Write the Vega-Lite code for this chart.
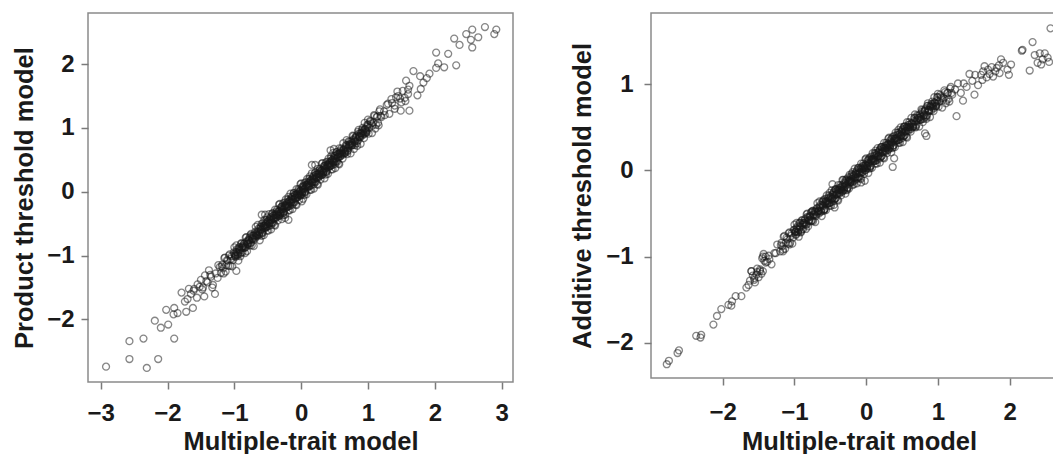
{
"$schema": "https://vega.github.io/schema/vega-lite/v6.json",
"padding": {"left": 11, "top": 12, "right": 0, "bottom": 0},
"background": "white",
"bounds": "flush",
"spacing": 138,
"datasets": {
"product": [
{"x":-1.60,"y":-1.52},{"x":-1.56,"y":-1.66},{"x":-1.52,"y":-1.49},{"x":-1.48,"y":-1.53},{"x":-1.44,"y":-1.31},{"x":-1.40,"y":-1.42},{"x":-1.36,"y":-1.30},{"x":-1.32,"y":-1.46},{"x":-1.28,"y":-1.28},{"x":-1.24,"y":-1.15},{"x":-1.20,"y":-1.27},
{"x":-1.18,"y":-1.14},{"x":-1.16,"y":-1.28},{"x":-1.14,"y":-1.03},{"x":-1.12,"y":-1.15},{"x":-1.10,"y":-1.08},{"x":-1.08,"y":-1.00},{"x":-1.06,"y":-1.16},{"x":-1.04,"y":-1.01},{"x":-1.02,"y":-1.07},{"x":-1.00,"y":-0.87},{"x":-0.98,"y":-1.00},{"x":-0.96,"y":-0.90},{"x":-0.94,"y":-1.08},{"x":-0.92,"y":-0.92},{"x":-0.90,"y":-0.81},{"x":-0.88,"y":-0.95},{"x":-0.86,"y":-0.82},{"x":-0.84,"y":-0.96},{"x":-0.82,"y":-0.71},{"x":-0.80,"y":-0.83},{"x":-0.78,"y":-0.76},{"x":-0.76,"y":-0.68},{"x":-0.74,"y":-0.84},{"x":-0.72,"y":-0.69},{"x":-0.70,"y":-0.75},{"x":-0.68,"y":-0.55},{"x":-0.66,"y":-0.68},{"x":-0.64,"y":-0.58},{"x":-0.62,"y":-0.76},
{"x":-0.60,"y":-0.60},{"x":-0.59,"y":-0.50},{"x":-0.58,"y":-0.65},{"x":-0.57,"y":-0.53},{"x":-0.56,"y":-0.68},{"x":-0.55,"y":-0.44},{"x":-0.54,"y":-0.57},{"x":-0.53,"y":-0.51},{"x":-0.52,"y":-0.44},{"x":-0.51,"y":-0.61},{"x":-0.50,"y":-0.47},{"x":-0.49,"y":-0.54},{"x":-0.48,"y":-0.35},{"x":-0.47,"y":-0.49},{"x":-0.46,"y":-0.40},{"x":-0.45,"y":-0.59},{"x":-0.44,"y":-0.44},{"x":-0.43,"y":-0.34},{"x":-0.42,"y":-0.49},{"x":-0.41,"y":-0.37},{"x":-0.40,"y":-0.52},{"x":-0.39,"y":-0.28},{"x":-0.38,"y":-0.41},{"x":-0.37,"y":-0.35},{"x":-0.36,"y":-0.28},{"x":-0.35,"y":-0.45},{"x":-0.34,"y":-0.31},{"x":-0.33,"y":-0.38},{"x":-0.32,"y":-0.19},{"x":-0.31,"y":-0.33},{"x":-0.30,"y":-0.24},{"x":-0.29,"y":-0.43},{"x":-0.28,"y":-0.28},{"x":-0.27,"y":-0.18},{"x":-0.26,"y":-0.33},{"x":-0.25,"y":-0.21},{"x":-0.24,"y":-0.36},{"x":-0.23,"y":-0.12},{"x":-0.22,"y":-0.25},{"x":-0.21,"y":-0.19},{"x":-0.20,"y":-0.12},{"x":-0.19,"y":-0.29},{"x":-0.18,"y":-0.15},{"x":-0.17,"y":-0.22},{"x":-0.16,"y":-0.03},{"x":-0.15,"y":-0.17},{"x":-0.14,"y":-0.08},{"x":-0.13,"y":-0.27},{"x":-0.12,"y":-0.12},{"x":-0.11,"y":-0.02},{"x":-0.10,"y":-0.17},{"x":-0.09,"y":-0.05},{"x":-0.08,"y":-0.20},{"x":-0.07,"y":0.04},{"x":-0.06,"y":-0.09},{"x":-0.05,"y":-0.03},{"x":-0.04,"y":0.04},{"x":-0.03,"y":-0.13},{"x":-0.02,"y":0.01},{"x":-0.01,"y":-0.06},
{"x":0.00,"y":0.13},{"x":0.01,"y":-0.01},{"x":0.02,"y":0.08},{"x":0.03,"y":-0.11},{"x":0.04,"y":0.04},{"x":0.05,"y":0.14},{"x":0.06,"y":-0.01},{"x":0.07,"y":0.11},{"x":0.08,"y":-0.04},{"x":0.09,"y":0.20},{"x":0.10,"y":0.07},{"x":0.11,"y":0.13},{"x":0.12,"y":0.20},{"x":0.13,"y":0.03},{"x":0.14,"y":0.17},{"x":0.15,"y":0.10},{"x":0.16,"y":0.29},{"x":0.17,"y":0.15},{"x":0.18,"y":0.24},{"x":0.19,"y":0.05},{"x":0.20,"y":0.20},{"x":0.21,"y":0.30},{"x":0.22,"y":0.15},{"x":0.23,"y":0.27},{"x":0.24,"y":0.12},{"x":0.25,"y":0.36},{"x":0.26,"y":0.23},{"x":0.27,"y":0.29},{"x":0.28,"y":0.36},{"x":0.29,"y":0.19},{"x":0.30,"y":0.33},{"x":0.31,"y":0.26},{"x":0.32,"y":0.45},{"x":0.33,"y":0.31},{"x":0.34,"y":0.40},{"x":0.35,"y":0.21},{"x":0.36,"y":0.36},{"x":0.37,"y":0.46},{"x":0.38,"y":0.31},{"x":0.39,"y":0.43},{"x":0.40,"y":0.28},{"x":0.41,"y":0.52},{"x":0.42,"y":0.39},{"x":0.43,"y":0.45},{"x":0.44,"y":0.52},{"x":0.45,"y":0.35},{"x":0.46,"y":0.49},{"x":0.47,"y":0.42},{"x":0.48,"y":0.61},{"x":0.49,"y":0.47},{"x":0.50,"y":0.56},{"x":0.51,"y":0.37},{"x":0.52,"y":0.52},{"x":0.53,"y":0.62},{"x":0.54,"y":0.47},{"x":0.55,"y":0.59},{"x":0.56,"y":0.44},{"x":0.57,"y":0.68},{"x":0.58,"y":0.55},{"x":0.59,"y":0.61},{"x":0.60,"y":0.68},
{"x":0.62,"y":0.52},{"x":0.64,"y":0.67},{"x":0.66,"y":0.61},{"x":0.68,"y":0.81},{"x":0.70,"y":0.68},{"x":0.72,"y":0.78},{"x":0.74,"y":0.60},{"x":0.76,"y":0.76},{"x":0.78,"y":0.87},{"x":0.80,"y":0.73},{"x":0.82,"y":0.86},{"x":0.84,"y":0.72},{"x":0.86,"y":0.97},{"x":0.88,"y":0.85},{"x":0.90,"y":0.92},{"x":0.92,"y":1.00},{"x":0.94,"y":0.84},{"x":0.96,"y":0.99},{"x":0.98,"y":0.93},{"x":1.00,"y":1.13},{"x":1.02,"y":1.00},{"x":1.04,"y":1.10},{"x":1.06,"y":0.92},{"x":1.08,"y":1.08},{"x":1.10,"y":1.19},{"x":1.12,"y":1.05},{"x":1.14,"y":1.18},{"x":1.16,"y":1.04},{"x":1.18,"y":1.29},
{"x":1.20,"y":1.17},{"x":1.24,"y":1.26},{"x":1.28,"y":1.36},{"x":1.32,"y":1.22},{"x":1.36,"y":1.39},{"x":1.40,"y":1.35},{"x":1.44,"y":1.57},{"x":1.48,"y":1.46},{"x":1.52,"y":1.58},{"x":1.56,"y":1.42},{"x":1.60,"y":1.60},
{"x":-1.19,"y":-1.17},{"x":-1.17,"y":-1.20},{"x":-1.15,"y":-1.04},{"x":-1.13,"y":-1.25},{"x":-1.11,"y":-1.07},{"x":-1.09,"y":-1.16},{"x":-1.07,"y":-0.98},{"x":-1.05,"y":-1.05},{"x":-1.03,"y":-1.17},{"x":-1.01,"y":-0.95},{"x":-0.99,"y":-1.01},{"x":-0.97,"y":-0.84},{"x":-0.95,"y":-1.00},{"x":-0.93,"y":-0.90},{"x":-0.91,"y":-1.01},{"x":-0.89,"y":-0.81},{"x":-0.87,"y":-0.85},{"x":-0.85,"y":-0.88},{"x":-0.83,"y":-0.72},{"x":-0.81,"y":-0.93},{"x":-0.79,"y":-0.75},{"x":-0.77,"y":-0.84},{"x":-0.75,"y":-0.66},{"x":-0.73,"y":-0.73},{"x":-0.71,"y":-0.85},{"x":-0.69,"y":-0.63},{"x":-0.67,"y":-0.69},{"x":-0.65,"y":-0.52},{"x":-0.63,"y":-0.68},{"x":-0.61,"y":-0.58},{"x":-0.59,"y":-0.69},{"x":-0.57,"y":-0.49},{"x":-0.55,"y":-0.53},{"x":-0.53,"y":-0.56},{"x":-0.51,"y":-0.40},{"x":-0.49,"y":-0.61},{"x":-0.47,"y":-0.43},{"x":-0.45,"y":-0.52},{"x":-0.43,"y":-0.34},{"x":-0.41,"y":-0.41},{"x":-0.39,"y":-0.53},{"x":-0.37,"y":-0.31},{"x":-0.35,"y":-0.37},{"x":-0.33,"y":-0.20},{"x":-0.31,"y":-0.36},{"x":-0.29,"y":-0.26},{"x":-0.27,"y":-0.37},{"x":-0.25,"y":-0.17},{"x":-0.23,"y":-0.21},{"x":-0.21,"y":-0.24},{"x":-0.19,"y":-0.08},{"x":-0.17,"y":-0.29},{"x":-0.15,"y":-0.11},{"x":-0.13,"y":-0.20},{"x":-0.11,"y":-0.02},{"x":-0.09,"y":-0.09},{"x":-0.07,"y":-0.21},{"x":-0.05,"y":0.01},{"x":-0.03,"y":-0.05},{"x":-0.01,"y":0.12},
{"x":0.01,"y":-0.04},{"x":0.03,"y":0.06},{"x":0.05,"y":-0.05},{"x":0.07,"y":0.15},{"x":0.09,"y":0.11},{"x":0.11,"y":0.08},{"x":0.13,"y":0.24},{"x":0.15,"y":0.03},{"x":0.17,"y":0.21},{"x":0.19,"y":0.12},{"x":0.21,"y":0.30},{"x":0.23,"y":0.23},{"x":0.25,"y":0.11},{"x":0.27,"y":0.33},{"x":0.29,"y":0.27},{"x":0.31,"y":0.44},{"x":0.33,"y":0.28},{"x":0.35,"y":0.38},{"x":0.37,"y":0.27},{"x":0.39,"y":0.47},{"x":0.41,"y":0.43},{"x":0.43,"y":0.40},{"x":0.45,"y":0.56},{"x":0.47,"y":0.35},{"x":0.49,"y":0.53},{"x":0.51,"y":0.44},{"x":0.53,"y":0.62},{"x":0.55,"y":0.55},{"x":0.57,"y":0.43},{"x":0.59,"y":0.65},{"x":0.61,"y":0.59},{"x":0.63,"y":0.76},{"x":0.65,"y":0.60},{"x":0.67,"y":0.70},{"x":0.69,"y":0.59},{"x":0.71,"y":0.79},{"x":0.73,"y":0.75},{"x":0.75,"y":0.72},{"x":0.77,"y":0.88},{"x":0.79,"y":0.67},{"x":0.81,"y":0.85},{"x":0.83,"y":0.76},{"x":0.85,"y":0.94},{"x":0.87,"y":0.87},{"x":0.89,"y":0.75},{"x":0.91,"y":0.97},{"x":0.93,"y":0.91},{"x":0.95,"y":1.08},{"x":0.97,"y":0.92},{"x":0.99,"y":1.02},{"x":1.01,"y":0.91},{"x":1.03,"y":1.11},{"x":1.05,"y":1.07},{"x":1.07,"y":1.04},{"x":1.09,"y":1.20},{"x":1.11,"y":0.99},{"x":1.13,"y":1.17},{"x":1.15,"y":1.08},{"x":1.17,"y":1.26},{"x":1.19,"y":1.19},
{"x":-1.00,"y":-0.97},{"x":-0.98,"y":-1.02},{"x":-0.96,"y":-0.95},{"x":-0.94,"y":-0.96},{"x":-0.92,"y":-0.87},{"x":-0.90,"y":-0.95},{"x":-0.88,"y":-0.86},{"x":-0.86,"y":-0.86},{"x":-0.84,"y":-0.87},{"x":-0.82,"y":-0.78},{"x":-0.80,"y":-0.81},{"x":-0.78,"y":-0.76},{"x":-0.76,"y":-0.80},{"x":-0.74,"y":-0.69},{"x":-0.72,"y":-0.74},{"x":-0.70,"y":-0.69},{"x":-0.68,"y":-0.65},{"x":-0.66,"y":-0.70},{"x":-0.64,"y":-0.63},{"x":-0.62,"y":-0.64},{"x":-0.60,"y":-0.55},{"x":-0.58,"y":-0.63},{"x":-0.56,"y":-0.54},{"x":-0.54,"y":-0.54},{"x":-0.52,"y":-0.55},{"x":-0.50,"y":-0.46},{"x":-0.48,"y":-0.49},{"x":-0.46,"y":-0.44},{"x":-0.44,"y":-0.48},{"x":-0.42,"y":-0.37},{"x":-0.40,"y":-0.42},{"x":-0.38,"y":-0.37},{"x":-0.36,"y":-0.33},{"x":-0.34,"y":-0.38},{"x":-0.32,"y":-0.31},{"x":-0.30,"y":-0.32},{"x":-0.28,"y":-0.23},{"x":-0.26,"y":-0.31},{"x":-0.24,"y":-0.22},{"x":-0.22,"y":-0.22},{"x":-0.20,"y":-0.23},{"x":-0.18,"y":-0.14},{"x":-0.16,"y":-0.17},{"x":-0.14,"y":-0.12},{"x":-0.12,"y":-0.16},{"x":-0.10,"y":-0.05},{"x":-0.08,"y":-0.10},{"x":-0.06,"y":-0.05},{"x":-0.04,"y":-0.01},{"x":-0.02,"y":-0.06},
{"x":0.00,"y":0.01},{"x":0.02,"y":0.00},{"x":0.04,"y":0.09},{"x":0.06,"y":0.01},{"x":0.08,"y":0.10},{"x":0.10,"y":0.10},{"x":0.12,"y":0.09},{"x":0.14,"y":0.18},{"x":0.16,"y":0.15},{"x":0.18,"y":0.20},{"x":0.20,"y":0.16},{"x":0.22,"y":0.27},{"x":0.24,"y":0.22},{"x":0.26,"y":0.27},{"x":0.28,"y":0.31},{"x":0.30,"y":0.26},{"x":0.32,"y":0.33},{"x":0.34,"y":0.32},{"x":0.36,"y":0.41},{"x":0.38,"y":0.33},{"x":0.40,"y":0.42},{"x":0.42,"y":0.42},{"x":0.44,"y":0.41},{"x":0.46,"y":0.50},{"x":0.48,"y":0.47},{"x":0.50,"y":0.52},{"x":0.52,"y":0.48},{"x":0.54,"y":0.59},{"x":0.56,"y":0.54},{"x":0.58,"y":0.59},{"x":0.60,"y":0.63},{"x":0.62,"y":0.58},{"x":0.64,"y":0.65},{"x":0.66,"y":0.64},{"x":0.68,"y":0.73},{"x":0.70,"y":0.65},{"x":0.72,"y":0.74},{"x":0.74,"y":0.74},{"x":0.76,"y":0.73},{"x":0.78,"y":0.82},{"x":0.80,"y":0.79},{"x":0.82,"y":0.84},{"x":0.84,"y":0.80},{"x":0.86,"y":0.91},{"x":0.88,"y":0.86},{"x":0.90,"y":0.91},{"x":0.92,"y":0.95},{"x":0.94,"y":0.90},{"x":0.96,"y":0.97},{"x":0.98,"y":0.96},{"x":1.00,"y":1.05},
{"x":-0.99,"y":-0.99},{"x":-0.97,"y":-0.94},{"x":-0.95,"y":-0.98},{"x":-0.93,"y":-0.87},{"x":-0.91,"y":-0.97},{"x":-0.89,"y":-0.88},{"x":-0.87,"y":-0.88},{"x":-0.85,"y":-0.81},{"x":-0.83,"y":-0.87},{"x":-0.81,"y":-0.79},{"x":-0.79,"y":-0.81},{"x":-0.77,"y":-0.72},{"x":-0.75,"y":-0.80},{"x":-0.73,"y":-0.73},{"x":-0.71,"y":-0.68},{"x":-0.69,"y":-0.72},{"x":-0.67,"y":-0.67},{"x":-0.65,"y":-0.62},{"x":-0.63,"y":-0.66},{"x":-0.61,"y":-0.55},{"x":-0.59,"y":-0.65},{"x":-0.57,"y":-0.56},{"x":-0.55,"y":-0.56},{"x":-0.53,"y":-0.49},{"x":-0.51,"y":-0.55},{"x":-0.49,"y":-0.47},{"x":-0.47,"y":-0.49},{"x":-0.45,"y":-0.40},{"x":-0.43,"y":-0.48},{"x":-0.41,"y":-0.41},{"x":-0.39,"y":-0.36},{"x":-0.37,"y":-0.40},{"x":-0.35,"y":-0.35},{"x":-0.33,"y":-0.30},{"x":-0.31,"y":-0.34},{"x":-0.29,"y":-0.23},{"x":-0.27,"y":-0.33},{"x":-0.25,"y":-0.24},{"x":-0.23,"y":-0.24},{"x":-0.21,"y":-0.17},{"x":-0.19,"y":-0.23},{"x":-0.17,"y":-0.15},{"x":-0.15,"y":-0.17},{"x":-0.13,"y":-0.08},{"x":-0.11,"y":-0.16},{"x":-0.09,"y":-0.09},{"x":-0.07,"y":-0.04},{"x":-0.05,"y":-0.08},{"x":-0.03,"y":-0.03},{"x":-0.01,"y":0.02},
{"x":0.01,"y":-0.02},{"x":0.03,"y":0.09},{"x":0.05,"y":-0.01},{"x":0.07,"y":0.08},{"x":0.09,"y":0.08},{"x":0.11,"y":0.15},{"x":0.13,"y":0.09},{"x":0.15,"y":0.17},{"x":0.17,"y":0.15},{"x":0.19,"y":0.24},{"x":0.21,"y":0.16},{"x":0.23,"y":0.23},{"x":0.25,"y":0.28},{"x":0.27,"y":0.24},{"x":0.29,"y":0.29},{"x":0.31,"y":0.34},{"x":0.33,"y":0.30},{"x":0.35,"y":0.41},{"x":0.37,"y":0.31},{"x":0.39,"y":0.40},{"x":0.41,"y":0.40},{"x":0.43,"y":0.47},{"x":0.45,"y":0.41},{"x":0.47,"y":0.49},{"x":0.49,"y":0.47},{"x":0.51,"y":0.56},{"x":0.53,"y":0.48},{"x":0.55,"y":0.55},{"x":0.57,"y":0.60},{"x":0.59,"y":0.56},{"x":0.61,"y":0.61},{"x":0.63,"y":0.66},{"x":0.65,"y":0.62},{"x":0.67,"y":0.73},{"x":0.69,"y":0.63},{"x":0.71,"y":0.72},{"x":0.73,"y":0.72},{"x":0.75,"y":0.79},{"x":0.77,"y":0.73},{"x":0.79,"y":0.81},{"x":0.81,"y":0.79},{"x":0.83,"y":0.88},{"x":0.85,"y":0.80},{"x":0.87,"y":0.87},{"x":0.89,"y":0.92},{"x":0.91,"y":0.88},{"x":0.93,"y":0.93},{"x":0.95,"y":0.98},{"x":0.97,"y":0.94},{"x":0.99,"y":1.05},
{"x":-2.92,"y":-2.74},{"x":-2.57,"y":-2.34},{"x":-2.57,"y":-2.62},{"x":-2.36,"y":-2.30},{"x":-2.31,"y":-2.76},{"x":-2.14,"y":-2.62},{"x":-1.90,"y":-2.30},{"x":-2.19,"y":-2.02},{"x":-2.10,"y":-2.13},{"x":-1.99,"y":-2.08},{"x":-2.02,"y":-1.85},{"x":-1.90,"y":-1.82},{"x":-1.85,"y":-1.90},{"x":-1.91,"y":-1.92},{"x":-1.72,"y":-1.88},{"x":-1.62,"y":-1.82},{"x":-1.79,"y":-1.58},{"x":-1.74,"y":-1.72},{"x":-1.70,"y":-1.68},{"x":-1.61,"y":-1.55},{"x":-1.45,"y":-1.64},{"x":-1.29,"y":-1.60},{"x":-0.97,"y":-1.24},{"x":-1.38,"y":-1.23},
{"x":-1.55,"y":-1.45},{"x":-1.50,"y":-1.38},{"x":-1.47,"y":-1.50},{"x":-1.42,"y":-1.40},{"x":-1.35,"y":-1.33},{"x":-1.33,"y":-1.50},{"x":-1.25,"y":-1.35},{"x":-1.22,"y":-1.18},{"x":-1.65,"y":-1.60},{"x":-1.68,"y":-1.52},
{"x":-0.59,"y":-0.36},{"x":0.01,"y":-0.15},{"x":0.16,"y":0.42},{"x":0.44,"y":0.65},{"x":-0.24,"y":-0.41},{"x":0.21,"y":0.42},{"x":0.49,"y":0.67},{"x":-0.54,"y":-0.36},{"x":-0.19,"y":-0.44},
{"x":2.75,"y":2.58},{"x":2.92,"y":2.54},{"x":2.89,"y":2.47},{"x":2.56,"y":2.54},{"x":2.47,"y":2.47},{"x":2.65,"y":2.42},{"x":2.54,"y":2.38},{"x":2.56,"y":2.26},{"x":2.29,"y":2.40},{"x":2.37,"y":2.30},{"x":2.02,"y":2.18},{"x":2.20,"y":2.16},{"x":2.32,"y":1.98},{"x":2.05,"y":2.01},{"x":2.14,"y":1.95},{"x":2.02,"y":1.94},{"x":1.68,"y":1.89},{"x":1.78,"y":1.81},{"x":1.92,"y":1.85},{"x":1.88,"y":1.78},{"x":1.83,"y":1.71},{"x":1.79,"y":1.61},{"x":1.74,"y":1.51},{"x":1.57,"y":1.74},{"x":1.62,"y":1.66},{"x":1.60,"y":1.53},{"x":1.62,"y":1.27},{"x":1.49,"y":1.27},
{"x":1.30,"y":1.38},{"x":1.35,"y":1.45},{"x":1.40,"y":1.30},{"x":1.45,"y":1.50},{"x":1.50,"y":1.40},{"x":1.55,"y":1.47},{"x":1.25,"y":1.20},{"x":1.42,"y":1.48}
],
"additive": [
{"x":-1.60,"y":-1.17},{"x":-1.56,"y":-1.27},{"x":-1.52,"y":-1.14},{"x":-1.48,"y":-1.17},{"x":-1.44,"y":-1.00},{"x":-1.40,"y":-1.07},{"x":-1.36,"y":-0.99},{"x":-1.32,"y":-1.09},{"x":-1.28,"y":-0.96},{"x":-1.24,"y":-0.86},{"x":-1.20,"y":-0.94},
{"x":-1.18,"y":-0.84},{"x":-1.16,"y":-0.94},{"x":-1.14,"y":-0.76},{"x":-1.12,"y":-0.84},{"x":-1.10,"y":-0.80},{"x":-1.08,"y":-0.73},{"x":-1.06,"y":-0.84},{"x":-1.04,"y":-0.73},{"x":-1.02,"y":-0.78},{"x":-1.00,"y":-0.63},{"x":-0.98,"y":-0.71},{"x":-0.96,"y":-0.65},{"x":-0.94,"y":-0.77},{"x":-0.92,"y":-0.66},{"x":-0.90,"y":-0.58},{"x":-0.88,"y":-0.68},{"x":-0.86,"y":-0.58},{"x":-0.84,"y":-0.68},{"x":-0.82,"y":-0.50},{"x":-0.80,"y":-0.59},{"x":-0.78,"y":-0.54},{"x":-0.76,"y":-0.48},{"x":-0.74,"y":-0.59},{"x":-0.72,"y":-0.48},{"x":-0.70,"y":-0.53},{"x":-0.68,"y":-0.38},{"x":-0.66,"y":-0.47},{"x":-0.64,"y":-0.40},{"x":-0.62,"y":-0.53},
{"x":-0.60,"y":-0.41},{"x":-0.59,"y":-0.34},{"x":-0.58,"y":-0.45},{"x":-0.57,"y":-0.36},{"x":-0.56,"y":-0.46},{"x":-0.55,"y":-0.29},{"x":-0.54,"y":-0.39},{"x":-0.53,"y":-0.35},{"x":-0.52,"y":-0.29},{"x":-0.51,"y":-0.41},{"x":-0.50,"y":-0.32},{"x":-0.49,"y":-0.37},{"x":-0.48,"y":-0.23},{"x":-0.47,"y":-0.32},{"x":-0.46,"y":-0.26},{"x":-0.45,"y":-0.40},{"x":-0.44,"y":-0.29},{"x":-0.43,"y":-0.22},{"x":-0.42,"y":-0.32},{"x":-0.41,"y":-0.24},{"x":-0.40,"y":-0.34},{"x":-0.39,"y":-0.17},{"x":-0.38,"y":-0.26},{"x":-0.37,"y":-0.22},{"x":-0.36,"y":-0.17},{"x":-0.35,"y":-0.29},{"x":-0.34,"y":-0.19},{"x":-0.33,"y":-0.24},{"x":-0.32,"y":-0.11},{"x":-0.31,"y":-0.20},{"x":-0.30,"y":-0.14},{"x":-0.29,"y":-0.27},{"x":-0.28,"y":-0.17},{"x":-0.27,"y":-0.10},{"x":-0.26,"y":-0.20},{"x":-0.25,"y":-0.11},{"x":-0.24,"y":-0.21},{"x":-0.23,"y":-0.05},{"x":-0.22,"y":-0.14},{"x":-0.21,"y":-0.10},{"x":-0.20,"y":-0.04},{"x":-0.19,"y":-0.17},{"x":-0.18,"y":-0.07},{"x":-0.17,"y":-0.12},{"x":-0.16,"y":0.02},{"x":-0.15,"y":-0.08},{"x":-0.14,"y":-0.02},{"x":-0.13,"y":-0.15},{"x":-0.12,"y":-0.04},{"x":-0.11,"y":0.03},{"x":-0.10,"y":-0.08},{"x":-0.09,"y":0.01},{"x":-0.08,"y":-0.09},{"x":-0.07,"y":0.08},{"x":-0.06,"y":-0.02},{"x":-0.05,"y":0.02},{"x":-0.04,"y":0.08},{"x":-0.03,"y":-0.04},{"x":-0.02,"y":0.05},{"x":-0.01,"y":0.00},
{"x":0.00,"y":0.14},{"x":0.01,"y":0.05},{"x":0.02,"y":0.11},{"x":0.03,"y":-0.03},{"x":0.04,"y":0.08},{"x":0.05,"y":0.15},{"x":0.06,"y":0.05},{"x":0.07,"y":0.13},{"x":0.08,"y":0.03},{"x":0.09,"y":0.20},{"x":0.10,"y":0.11},{"x":0.11,"y":0.14},{"x":0.12,"y":0.20},{"x":0.13,"y":0.08},{"x":0.14,"y":0.18},{"x":0.15,"y":0.12},{"x":0.16,"y":0.26},{"x":0.17,"y":0.17},{"x":0.18,"y":0.23},{"x":0.19,"y":0.09},{"x":0.20,"y":0.20},{"x":0.21,"y":0.27},{"x":0.22,"y":0.17},{"x":0.23,"y":0.25},{"x":0.24,"y":0.15},{"x":0.25,"y":0.32},{"x":0.26,"y":0.23},{"x":0.27,"y":0.26},{"x":0.28,"y":0.32},{"x":0.29,"y":0.20},{"x":0.30,"y":0.30},{"x":0.31,"y":0.24},{"x":0.32,"y":0.38},{"x":0.33,"y":0.29},{"x":0.34,"y":0.35},{"x":0.35,"y":0.21},{"x":0.36,"y":0.32},{"x":0.37,"y":0.39},{"x":0.38,"y":0.29},{"x":0.39,"y":0.37},{"x":0.40,"y":0.27},{"x":0.41,"y":0.44},{"x":0.42,"y":0.35},{"x":0.43,"y":0.38},{"x":0.44,"y":0.44},{"x":0.45,"y":0.32},{"x":0.46,"y":0.42},{"x":0.47,"y":0.36},{"x":0.48,"y":0.50},{"x":0.49,"y":0.41},{"x":0.50,"y":0.47},{"x":0.51,"y":0.33},{"x":0.52,"y":0.44},{"x":0.53,"y":0.51},{"x":0.54,"y":0.41},{"x":0.55,"y":0.49},{"x":0.56,"y":0.39},{"x":0.57,"y":0.56},{"x":0.58,"y":0.47},{"x":0.59,"y":0.50},{"x":0.60,"y":0.56},
{"x":0.62,"y":0.45},{"x":0.64,"y":0.55},{"x":0.66,"y":0.51},{"x":0.68,"y":0.65},{"x":0.70,"y":0.57},{"x":0.72,"y":0.63},{"x":0.74,"y":0.51},{"x":0.76,"y":0.62},{"x":0.78,"y":0.70},{"x":0.80,"y":0.60},{"x":0.82,"y":0.70},{"x":0.84,"y":0.60},{"x":0.86,"y":0.78},{"x":0.88,"y":0.69},{"x":0.90,"y":0.74},{"x":0.92,"y":0.80},{"x":0.94,"y":0.69},{"x":0.96,"y":0.79},{"x":0.98,"y":0.75},{"x":1.00,"y":0.89},{"x":1.02,"y":0.80},{"x":1.04,"y":0.86},{"x":1.06,"y":0.73},{"x":1.08,"y":0.84},{"x":1.10,"y":0.91},{"x":1.12,"y":0.81},{"x":1.14,"y":0.90},{"x":1.16,"y":0.80},{"x":1.18,"y":0.97},
{"x":1.20,"y":0.88},{"x":1.24,"y":0.94},{"x":1.28,"y":1.01},{"x":1.32,"y":0.90},{"x":1.36,"y":1.01},{"x":1.40,"y":0.97},{"x":1.44,"y":1.12},{"x":1.48,"y":1.04},{"x":1.52,"y":1.11},{"x":1.56,"y":0.99},{"x":1.60,"y":1.11},
{"x":-1.19,"y":-0.87},{"x":-1.17,"y":-0.88},{"x":-1.15,"y":-0.77},{"x":-1.13,"y":-0.91},{"x":-1.11,"y":-0.78},{"x":-1.09,"y":-0.85},{"x":-1.07,"y":-0.72},{"x":-1.05,"y":-0.76},{"x":-1.03,"y":-0.85},{"x":-1.01,"y":-0.69},{"x":-0.99,"y":-0.72},{"x":-0.97,"y":-0.61},{"x":-0.95,"y":-0.72},{"x":-0.93,"y":-0.65},{"x":-0.91,"y":-0.72},{"x":-0.89,"y":-0.58},{"x":-0.87,"y":-0.61},{"x":-0.85,"y":-0.62},{"x":-0.83,"y":-0.51},{"x":-0.81,"y":-0.65},{"x":-0.79,"y":-0.53},{"x":-0.77,"y":-0.59},{"x":-0.75,"y":-0.47},{"x":-0.73,"y":-0.51},{"x":-0.71,"y":-0.60},{"x":-0.69,"y":-0.44},{"x":-0.67,"y":-0.48},{"x":-0.65,"y":-0.36},{"x":-0.63,"y":-0.48},{"x":-0.61,"y":-0.40},{"x":-0.59,"y":-0.47},{"x":-0.57,"y":-0.33},{"x":-0.55,"y":-0.36},{"x":-0.53,"y":-0.38},{"x":-0.51,"y":-0.26},{"x":-0.49,"y":-0.41},{"x":-0.47,"y":-0.28},{"x":-0.45,"y":-0.35},{"x":-0.43,"y":-0.22},{"x":-0.41,"y":-0.27},{"x":-0.39,"y":-0.35},{"x":-0.37,"y":-0.20},{"x":-0.35,"y":-0.23},{"x":-0.33,"y":-0.11},{"x":-0.31,"y":-0.23},{"x":-0.29,"y":-0.15},{"x":-0.27,"y":-0.23},{"x":-0.25,"y":-0.08},{"x":-0.23,"y":-0.12},{"x":-0.21,"y":-0.13},{"x":-0.19,"y":-0.02},{"x":-0.17,"y":-0.16},{"x":-0.15,"y":-0.04},{"x":-0.13,"y":-0.10},{"x":-0.11,"y":0.03},{"x":-0.09,"y":-0.02},{"x":-0.07,"y":-0.10},{"x":-0.05,"y":0.05},{"x":-0.03,"y":0.02},{"x":-0.01,"y":0.13},
{"x":0.01,"y":0.02},{"x":0.03,"y":0.09},{"x":0.05,"y":0.02},{"x":0.07,"y":0.16},{"x":0.09,"y":0.13},{"x":0.11,"y":0.11},{"x":0.13,"y":0.23},{"x":0.15,"y":0.08},{"x":0.17,"y":0.21},{"x":0.19,"y":0.14},{"x":0.21,"y":0.27},{"x":0.23,"y":0.22},{"x":0.25,"y":0.14},{"x":0.27,"y":0.29},{"x":0.29,"y":0.26},{"x":0.31,"y":0.37},{"x":0.33,"y":0.26},{"x":0.35,"y":0.33},{"x":0.37,"y":0.26},{"x":0.39,"y":0.40},{"x":0.41,"y":0.37},{"x":0.43,"y":0.35},{"x":0.45,"y":0.47},{"x":0.47,"y":0.32},{"x":0.49,"y":0.45},{"x":0.51,"y":0.38},{"x":0.53,"y":0.51},{"x":0.55,"y":0.46},{"x":0.57,"y":0.38},{"x":0.59,"y":0.53},{"x":0.61,"y":0.50},{"x":0.63,"y":0.61},{"x":0.65,"y":0.50},{"x":0.67,"y":0.57},{"x":0.69,"y":0.50},{"x":0.71,"y":0.64},{"x":0.73,"y":0.61},{"x":0.75,"y":0.59},{"x":0.77,"y":0.71},{"x":0.79,"y":0.56},{"x":0.81,"y":0.69},{"x":0.83,"y":0.62},{"x":0.85,"y":0.75},{"x":0.87,"y":0.70},{"x":0.89,"y":0.62},{"x":0.91,"y":0.77},{"x":0.93,"y":0.74},{"x":0.95,"y":0.85},{"x":0.97,"y":0.74},{"x":0.99,"y":0.81},{"x":1.01,"y":0.74},{"x":1.03,"y":0.88},{"x":1.05,"y":0.84},{"x":1.07,"y":0.82},{"x":1.09,"y":0.93},{"x":1.11,"y":0.78},{"x":1.13,"y":0.90},{"x":1.15,"y":0.83},{"x":1.17,"y":0.95},{"x":1.19,"y":0.90},
{"x":-1.00,"y":-0.69},{"x":-0.98,"y":-0.75},{"x":-0.96,"y":-0.68},{"x":-0.94,"y":-0.69},{"x":-0.92,"y":-0.61},{"x":-0.90,"y":-0.69},{"x":-0.88,"y":-0.61},{"x":-0.86,"y":-0.61},{"x":-0.84,"y":-0.63},{"x":-0.82,"y":-0.54},{"x":-0.80,"y":-0.58},{"x":-0.78,"y":-0.53},{"x":-0.76,"y":-0.58},{"x":-0.74,"y":-0.47},{"x":-0.72,"y":-0.52},{"x":-0.70,"y":-0.48},{"x":-0.68,"y":-0.44},{"x":-0.66,"y":-0.50},{"x":-0.64,"y":-0.43},{"x":-0.62,"y":-0.45},{"x":-0.60,"y":-0.36},{"x":-0.58,"y":-0.45},{"x":-0.56,"y":-0.36},{"x":-0.54,"y":-0.37},{"x":-0.52,"y":-0.38},{"x":-0.50,"y":-0.30},{"x":-0.48,"y":-0.33},{"x":-0.46,"y":-0.28},{"x":-0.44,"y":-0.33},{"x":-0.42,"y":-0.22},{"x":-0.40,"y":-0.28},{"x":-0.38,"y":-0.23},{"x":-0.36,"y":-0.20},{"x":-0.34,"y":-0.25},{"x":-0.32,"y":-0.19},{"x":-0.30,"y":-0.20},{"x":-0.28,"y":-0.12},{"x":-0.26,"y":-0.20},{"x":-0.24,"y":-0.12},{"x":-0.22,"y":-0.12},{"x":-0.20,"y":-0.13},{"x":-0.18,"y":-0.05},{"x":-0.16,"y":-0.08},{"x":-0.14,"y":-0.04},{"x":-0.12,"y":-0.08},{"x":-0.10,"y":0.02},{"x":-0.08,"y":-0.03},{"x":-0.06,"y":0.01},{"x":-0.04,"y":0.05},{"x":-0.02,"y":0.00},
{"x":0.00,"y":0.06},{"x":0.02,"y":0.05},{"x":0.04,"y":0.13},{"x":0.06,"y":0.05},{"x":0.08,"y":0.13},{"x":0.10,"y":0.13},{"x":0.12,"y":0.11},{"x":0.14,"y":0.20},{"x":0.16,"y":0.16},{"x":0.18,"y":0.21},{"x":0.20,"y":0.16},{"x":0.22,"y":0.27},{"x":0.24,"y":0.21},{"x":0.26,"y":0.26},{"x":0.28,"y":0.29},{"x":0.30,"y":0.24},{"x":0.32,"y":0.30},{"x":0.34,"y":0.29},{"x":0.36,"y":0.37},{"x":0.38,"y":0.29},{"x":0.40,"y":0.37},{"x":0.42,"y":0.37},{"x":0.44,"y":0.35},{"x":0.46,"y":0.44},{"x":0.48,"y":0.40},{"x":0.50,"y":0.45},{"x":0.52,"y":0.40},{"x":0.54,"y":0.51},{"x":0.56,"y":0.45},{"x":0.58,"y":0.50},{"x":0.60,"y":0.53},{"x":0.62,"y":0.48},{"x":0.64,"y":0.54},{"x":0.66,"y":0.53},{"x":0.68,"y":0.61},{"x":0.70,"y":0.53},{"x":0.72,"y":0.61},{"x":0.74,"y":0.61},{"x":0.76,"y":0.59},{"x":0.78,"y":0.68},{"x":0.80,"y":0.64},{"x":0.82,"y":0.69},{"x":0.84,"y":0.64},{"x":0.86,"y":0.75},{"x":0.88,"y":0.69},{"x":0.90,"y":0.74},{"x":0.92,"y":0.77},{"x":0.94,"y":0.72},{"x":0.96,"y":0.78},{"x":0.98,"y":0.77},{"x":1.00,"y":0.85},
{"x":-0.99,"y":-0.71},{"x":-0.97,"y":-0.67},{"x":-0.95,"y":-0.71},{"x":-0.93,"y":-0.61},{"x":-0.91,"y":-0.71},{"x":-0.89,"y":-0.63},{"x":-0.87,"y":-0.63},{"x":-0.85,"y":-0.56},{"x":-0.83,"y":-0.63},{"x":-0.81,"y":-0.55},{"x":-0.79,"y":-0.58},{"x":-0.77,"y":-0.49},{"x":-0.75,"y":-0.58},{"x":-0.73,"y":-0.51},{"x":-0.71,"y":-0.47},{"x":-0.69,"y":-0.51},{"x":-0.67,"y":-0.47},{"x":-0.65,"y":-0.42},{"x":-0.63,"y":-0.47},{"x":-0.61,"y":-0.36},{"x":-0.59,"y":-0.46},{"x":-0.57,"y":-0.38},{"x":-0.55,"y":-0.38},{"x":-0.53,"y":-0.32},{"x":-0.51,"y":-0.38},{"x":-0.49,"y":-0.31},{"x":-0.47,"y":-0.33},{"x":-0.45,"y":-0.25},{"x":-0.43,"y":-0.33},{"x":-0.41,"y":-0.27},{"x":-0.39,"y":-0.22},{"x":-0.37,"y":-0.27},{"x":-0.35,"y":-0.22},{"x":-0.33,"y":-0.17},{"x":-0.31,"y":-0.22},{"x":-0.29,"y":-0.11},{"x":-0.27,"y":-0.22},{"x":-0.25,"y":-0.13},{"x":-0.23,"y":-0.14},{"x":-0.21,"y":-0.07},{"x":-0.19,"y":-0.14},{"x":-0.17,"y":-0.06},{"x":-0.15,"y":-0.09},{"x":-0.13,"y":0.00},{"x":-0.11,"y":-0.08},{"x":-0.09,"y":-0.02},{"x":-0.07,"y":0.03},{"x":-0.05,"y":-0.02},{"x":-0.03,"y":0.03},{"x":-0.01,"y":0.07},
{"x":0.01,"y":0.03},{"x":0.03,"y":0.13},{"x":0.05,"y":0.03},{"x":0.07,"y":0.11},{"x":0.09,"y":0.11},{"x":0.11,"y":0.17},{"x":0.13,"y":0.11},{"x":0.15,"y":0.18},{"x":0.17,"y":0.16},{"x":0.19,"y":0.24},{"x":0.21,"y":0.16},{"x":0.23,"y":0.22},{"x":0.25,"y":0.27},{"x":0.27,"y":0.22},{"x":0.29,"y":0.27},{"x":0.31,"y":0.31},{"x":0.33,"y":0.27},{"x":0.35,"y":0.37},{"x":0.37,"y":0.27},{"x":0.39,"y":0.35},{"x":0.41,"y":0.35},{"x":0.43,"y":0.41},{"x":0.45,"y":0.35},{"x":0.47,"y":0.42},{"x":0.49,"y":0.40},{"x":0.51,"y":0.48},{"x":0.53,"y":0.40},{"x":0.55,"y":0.46},{"x":0.57,"y":0.51},{"x":0.59,"y":0.46},{"x":0.61,"y":0.51},{"x":0.63,"y":0.55},{"x":0.65,"y":0.51},{"x":0.67,"y":0.61},{"x":0.69,"y":0.51},{"x":0.71,"y":0.59},{"x":0.73,"y":0.59},{"x":0.75,"y":0.65},{"x":0.77,"y":0.59},{"x":0.79,"y":0.66},{"x":0.81,"y":0.64},{"x":0.83,"y":0.72},{"x":0.85,"y":0.64},{"x":0.87,"y":0.70},{"x":0.89,"y":0.75},{"x":0.91,"y":0.70},{"x":0.93,"y":0.75},{"x":0.95,"y":0.79},{"x":0.97,"y":0.75},{"x":0.99,"y":0.85},
{"x":-2.78,"y":-2.25},{"x":-2.75,"y":-2.21},{"x":-2.63,"y":-2.12},{"x":-2.61,"y":-2.09},{"x":-2.37,"y":-1.92},{"x":-2.30,"y":-1.91},{"x":-2.31,"y":-1.94},{"x":-2.13,"y":-1.79},{"x":-2.08,"y":-1.69},{"x":-2.02,"y":-1.61},{"x":-1.92,"y":-1.56},{"x":-1.88,"y":-1.57},{"x":-1.87,"y":-1.52},{"x":-1.82,"y":-1.46},{"x":-1.74,"y":-1.46},{"x":-1.67,"y":-1.36},{"x":-1.64,"y":-1.33},{"x":-1.60,"y":-1.17},{"x":-1.53,"y":-1.21},{"x":-1.44,"y":-1.17},{"x":-1.42,"y":-1.05},{"x":-1.35,"y":-1.03},{"x":-1.26,"y":-0.96},{"x":-1.16,"y":-0.92},{"x":-1.07,"y":-0.86},{"x":-0.98,"y":-0.74},
{"x":-1.58,"y":-1.22},{"x":-1.56,"y":-1.25},{"x":-1.52,"y":-1.18},{"x":-1.50,"y":-1.24},{"x":-1.48,"y":-1.15},{"x":-1.46,"y":-1.20},{"x":-1.62,"y":-1.28},{"x":-1.55,"y":-1.30},{"x":-1.45,"y":-1.02},{"x":-1.40,"y":-1.00},{"x":-1.38,"y":-1.06},{"x":-1.43,"y":-0.97},
{"x":2.57,"y":1.65},{"x":2.32,"y":1.49},{"x":2.17,"y":1.39},{"x":2.18,"y":1.40},{"x":2.35,"y":1.34},{"x":2.42,"y":1.36},{"x":2.49,"y":1.36},{"x":2.53,"y":1.31},{"x":2.39,"y":1.25},{"x":2.44,"y":1.23},{"x":2.55,"y":1.26},{"x":2.46,"y":1.29},{"x":2.28,"y":1.16},{"x":1.88,"y":1.29},{"x":1.91,"y":1.25},{"x":2.02,"y":1.23},{"x":1.97,"y":1.17},{"x":1.99,"y":1.11},{"x":1.82,"y":1.19},{"x":1.86,"y":1.13},{"x":1.65,"y":1.21},{"x":1.70,"y":1.17},{"x":1.77,"y":1.09},{"x":1.63,"y":1.15},{"x":1.51,"y":0.88},{"x":1.26,"y":0.63},{"x":0.84,"y":0.40},{"x":0.37,"y":0.04},{"x":0.82,"y":0.43},{"x":0.39,"y":0.14},{"x":-0.47,"y":-0.16},{"x":-0.44,"y":-0.43},{"x":-0.07,"y":-0.14},{"x":-0.02,"y":-0.12},{"x":1.35,"y":0.81},
{"x":1.72,"y":1.12},{"x":1.68,"y":1.08},{"x":1.80,"y":1.15},{"x":1.62,"y":1.05},{"x":1.75,"y":1.20},{"x":1.85,"y":1.22}
]
},
"hconcat": [
{
"width": 425, "height": 369,
"data": {"name": "product"},
"mark": {"type": "point", "shape": "circle", "filled": false, "size": 48, "color": "#1a1a1a", "strokeOpacity": 0.75, "strokeWidth": 1.3},
"encoding": {
"x": {"field": "x", "type": "quantitative", "scale": {"domain": [-3.19, 3.17], "nice": false, "zero": false}, "axis": {"values": [-3,-2,-1,0,1,2,3], "title": "Multiple-trait model", "labelPadding": 12, "titlePadding": 4}},
"y": {"field": "y", "type": "quantitative", "scale": {"domain": [-2.98, 2.8], "nice": false, "zero": false}, "axis": {"values": [-2,-1,0,1,2], "title": "Product threshold model", "labelPadding": 7, "titlePadding": 9}}
}
},
{
"width": 416, "height": 365,
"data": {"name": "additive"},
"mark": {"type": "point", "shape": "circle", "filled": false, "size": 48, "color": "#1a1a1a", "strokeOpacity": 0.75, "strokeWidth": 1.3},
"encoding": {
"x": {"field": "x", "type": "quantitative", "scale": {"domain": [-3.0, 2.8], "nice": false, "zero": false}, "axis": {"values": [-2,-1,0,1,2], "title": "Multiple-trait model", "labelPadding": 15, "titlePadding": 5}},
"y": {"field": "y", "type": "quantitative", "scale": {"domain": [-2.41, 1.828], "nice": false, "zero": false}, "axis": {"values": [-2,-1,0,1], "title": "Additive threshold model", "labelPadding": 11, "titlePadding": 10}}
}
}
],
"config": {
"view": {"stroke": "#8a8a8a", "strokeWidth": 1.5},
"axis": {"grid": false, "domain": false, "tickColor": "#7a7a7a", "tickSize": 7, "tickWidth": 1.5, "labelFont": "Liberation Sans", "labelFontWeight": "bold", "labelFontSize": 24, "labelColor": "#1a1a1a", "titleFont": "Liberation Sans", "titleFontSize": 25.5, "titleFontWeight": "bold", "titleColor": "#1a1a1a"}
}
}
